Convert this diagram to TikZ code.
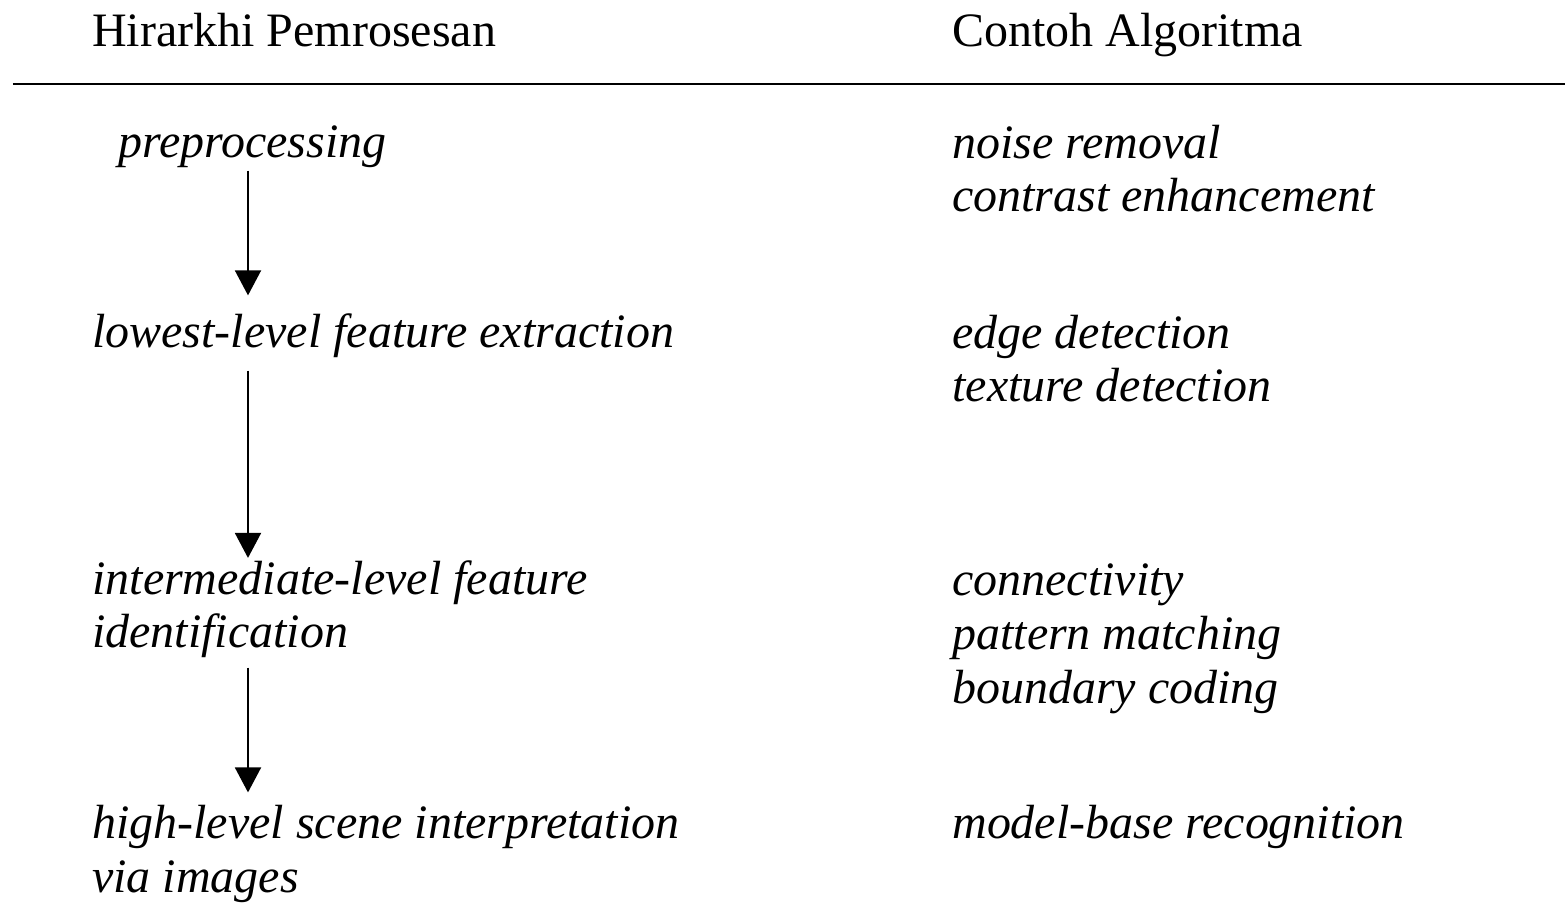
\documentclass[tikz,border=0pt]{standalone}
\usepackage{fontspec}
\setmainfont{Liberation Serif}
\usetikzlibrary{arrows.meta}

\begin{document}
\begin{tikzpicture}
	\tikzset{
		every node/.style={font=\fontsize{27.3}{30.7}\selectfont, inner sep=0, anchor=base west, align=left},
		stage/.style={font=\fontsize{27.3}{30.7}\selectfont\itshape},
		flowarrow/.style={line width=1.1pt, -{Triangle[width=0.52cm,length=0.5cm]}}
	}
	\useasboundingbox (0,0) rectangle (31.3,18.04);

	\node (headleft) at (1.84,17.10) {Hirarkhi Pemrosesan};
	\node (headright) at (19.04,17.10) {Contoh Algoritma};
	\draw [line width=0.9pt] (0.26,16.36) -- (31.3,16.36); % rule under the headings

	\coordinate (axis) at (4.96,0);

	% multi-line nodes sit on the baseline of their last line
	\node [stage] (pre) at (2.36,14.88) {preprocessing};
	\node [stage] (low) at (1.84,11.08) {lowest-level feature extraction};
	\node [stage] (inter) at (1.84,5.08) {intermediate-level feature\\identification};
	\node [stage] (high) at (1.84,0.20) {high-level scene interpretation\\via images};

	\node [stage] (algpre) at (19.04,13.80) {noise removal\\contrast enhancement};
	\node [stage] (alglow) at (19.04,10.00) {edge detection\\texture detection};
	\node [stage] (alginter) at (19.04,3.98) {connectivity\\pattern matching\\boundary coding};
	\node [stage] (alghigh) at (19.04,1.28) {model-base recognition};

	\draw [flowarrow, shorten <=0.04cm, shorten >=0.37cm] (pre.south -| axis) -- (low.north -| axis);
	\draw [flowarrow, shorten <=0.24cm, shorten >=0.04cm] (low.south -| axis) -- (inter.north -| axis);
	\draw [flowarrow, shorten <=0.18cm, shorten >=0.24cm] (inter.south -| axis) -- (high.north -| axis);
\end{tikzpicture}
\end{document}
